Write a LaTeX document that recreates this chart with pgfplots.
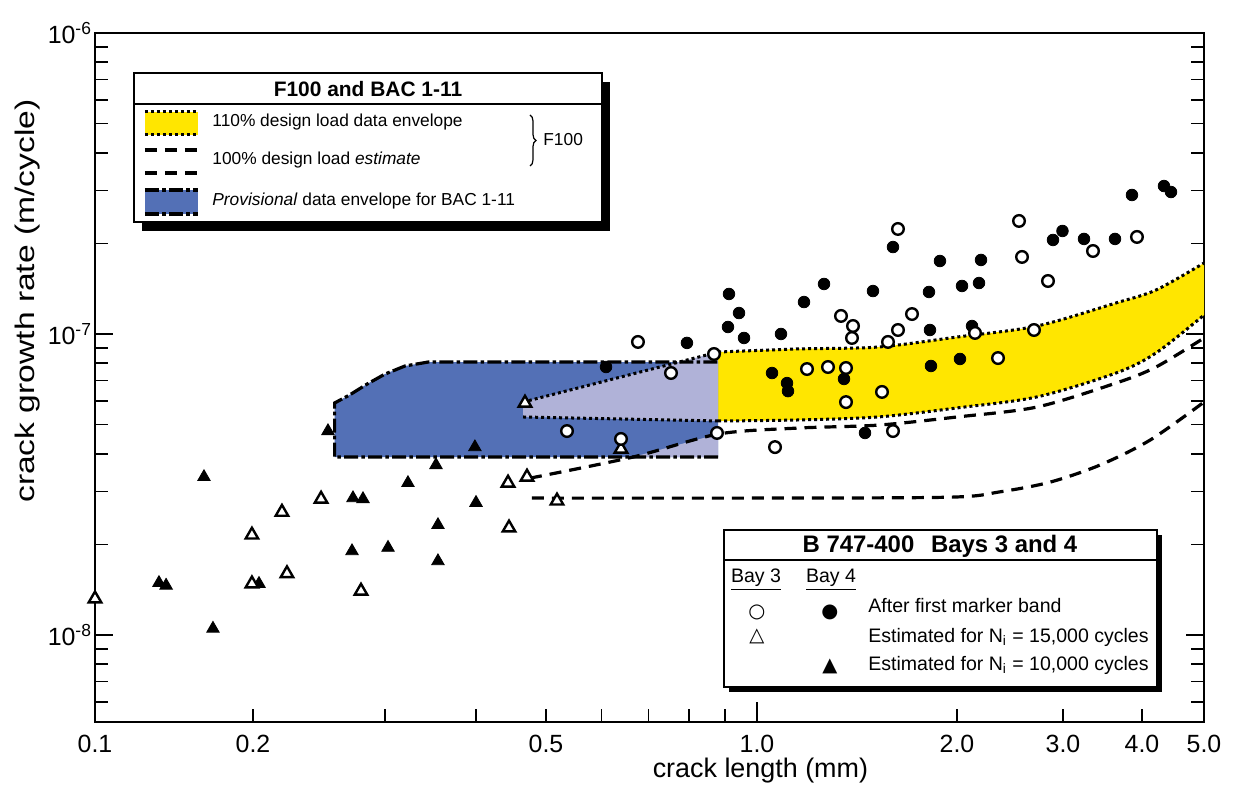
\documentclass[border=0pt]{standalone}
\usepackage{fontspec}
\setmainfont{Liberation Sans}
\newfontfamily\symfont{DejaVu Sans}
\usepackage{pgfplots}
\pgfplotsset{compat=1.18}
\usepgfplotslibrary{fillbetween}
\usetikzlibrary{decorations.pathreplacing}

\definecolor{bacblue}{RGB}{83,112,182}
\definecolor{lav}{RGB}{176,178,216}
\definecolor{envyellow}{RGB}{255,230,0}

\tikzset{
  dotline/.style={black, line width=1.5bp, dash pattern=on 1.5bp off 1.5bp},
  dashline/.style={black, line width=1.6bp, dash pattern=on 6bp off 4bp},
  dashdotline/.style={black, line width=1.6bp, dash pattern=on 7bp off 1.6bp on 1.8bp off 1.6bp},
}

% the crack length axis of the original is log-like but unevenly drawn:
% cp() places a crack length piecewise-logarithmically between the labelled ticks
\pgfplotsset{
  table/crack/.style={x expr={cp(\thisrow{x})}, y=y},
}

\begin{document}
\begin{tikzpicture}[declare function={
  cp(\x)=2.27946*(min(max(ln(\x),-2.302585),-1.609438)+2.302585)
        +3.25553*(min(max(ln(\x),-1.609438),-1.203973)+1.609438)
        +3.16321*(min(max(ln(\x),-1.203973),-0.916291)+1.203973)
        +3.13699*(min(max(ln(\x),-0.916291),-0.693147)+0.916291)
        +3.04409*(min(max(ln(\x),-0.693147),0)+0.693147)
        +2.88539*(min(max(ln(\x),0),0.693147))
        +2.61429*(min(max(ln(\x),0.693147),1.098612)-0.693147)
        +2.74609*(min(max(ln(\x),1.098612),1.386294)-1.098612)
        +2.77847*(min(max(ln(\x),1.386294),1.609438)-1.386294);}]
\begin{axis}[
  at={(47.5bp,32.5bp)}, anchor=south west,
  scale only axis, width=554.5bp, height=344.5bp,
  xmin=0, xmax=11.09,
  ymode=log, ymin=5.14e-9, ymax=1e-6,
  clip=false,
  axis line style={line width=0.9bp},
  tick style={line width=0.8bp, black},
  major tick length=6.5bp, minor tick length=6.5bp,
  % tick positions of 0.1, 0.2, 0.5, 1, 2, 3, 4, 5 mm on the drawn axis
  xtick={0,1.58,4.51,6.62,8.62,9.68,10.47,11.09},
  xticklabels={0.1,0.2,0.5,1.0,2.0,3.0,4.0,5.0},
  % 0.3, 0.4, 0.6, 0.7, 0.8, 0.9 mm
  minor xtick={2.90,3.81,5.065,5.534,5.941,6.299},
  extra x ticks={6.62}, extra x tick labels={},
  extra x tick style={major tick length=10bp},
  xtick pos=left,
  ytick={1e-8,1e-7,1e-6},
  yticklabels={10\textsuperscript{-8},10\textsuperscript{-7},10\textsuperscript{-6}},
  minor ytick={6e-9,7e-9,8e-9,9e-9,2e-8,3e-8,4e-8,5e-8,6e-8,7e-8,8e-8,9e-8,2e-7,3e-7,4e-7,5e-7,6e-7,7e-7,8e-7,9e-7},
  extra y ticks={1e-8,1e-7,1e-6}, extra y tick labels={},
  extra y tick style={major tick length=9bp},
  ytick pos=both,
  tick label style={font=\fontsize{12.5}{15}\selectfont},
  xticklabel style={yshift=-3bp},
  yticklabel style={xshift=2bp},
  xlabel={crack length (mm)},
  ylabel={crack growth rate (m/cycle)},
  label style={font=\fontsize{13.5}{16}\selectfont},
  xlabel style={at={(axis description cs:0.6,0)}, anchor=center, yshift=-24.5bp},
  ylabel style={at={(axis description cs:0,0.611)}, anchor=center, xscale=1.25, yshift=33.5bp},
]

% BAC 1-11 provisional envelope
\addplot[fill=bacblue, draw=none] table[crack] {
x y
0.257 3.90e-8
0.257 5.90e-8
0.269 6.27e-8
0.284 6.82e-8
0.300 7.36e-8
0.3196 7.83e-8
0.344 8.07e-8
0.880 8.07e-8
0.880 3.90e-8
} -- cycle;

% F100 envelopes where they overlap the BAC envelope
\addplot[fill=lav, draw=none] table[crack] {
x y
0.4647 5.94e-8
0.880 8.71e-8
0.880 5.14e-8
0.4647 5.30e-8
} -- cycle;
\addplot[fill=lav, draw=none] table[crack] {
x y
0.665 3.90e-8
0.880 4.65e-8
0.880 3.90e-8
} -- cycle;

% 110% design load envelope
\addplot[name path=yup, dotline, smooth] table[crack] {
x y
0.880 8.71e-8
1.153 8.92e-8
1.521 9.05e-8
2.0 9.77e-8
2.716 1.063e-7
3.639 1.268e-7
4.207 1.40e-7
5.0 1.721e-7
};
\addplot[name path=ylo, dotline, smooth] table[crack] {
x y
0.880 5.14e-8
1.153 5.18e-8
1.521 5.30e-8
2.0 5.68e-8
2.716 6.18e-8
3.639 7.42e-8
4.207 8.65e-8
5.0 1.156e-7
};
\addplot[envyellow] fill between[of=yup and ylo];
\addplot[dotline] table[crack] {
x y
0.4647 5.94e-8
0.880 8.71e-8
};
\addplot[dotline] table[crack] {
x y
0.4647 5.30e-8
0.880 5.14e-8
};

% 100% design load estimate
\addplot[dashline, smooth] table[crack] {
x y
0.4751 3.32e-8
0.665 3.90e-8
0.880 4.65e-8
1.153 4.87e-8
1.521 4.98e-8
2.0 5.30e-8
2.716 5.72e-8
3.639 6.87e-8
4.207 7.77e-8
5.0 9.70e-8
};
\addplot[dashline, smooth] table[crack] {
x y
0.478 2.85e-8
1.0 2.85e-8
1.952 2.87e-8
2.358 2.99e-8
2.855 3.22e-8
3.433 3.67e-8
4.117 4.44e-8
5.0 5.94e-8
};

% outline of the BAC envelope
\addplot[dashdotline] table[crack] {
x y
0.880 3.90e-8
0.257 3.90e-8
0.257 5.90e-8
0.269 6.27e-8
0.284 6.82e-8
0.300 7.36e-8
0.3196 7.83e-8
0.344 8.07e-8
0.880 8.07e-8
};

% Bay 4, estimated for Ni = 10,000 cycles
\addplot[only marks, mark=triangle*, mark size=3.6bp, mark options={fill=black, draw=black}] table[crack] {
x y
0.2518 4.76e-8
0.3987 4.21e-8
0.3525 3.67e-8
0.1613 3.35e-8
0.3226 3.20e-8
0.2719 2.85e-8
0.2804 2.83e-8
0.4000 2.75e-8
0.3547 2.32e-8
0.2711 1.90e-8
0.3029 1.95e-8
0.3547 1.76e-8
0.1324 1.49e-8
0.1366 1.46e-8
0.2037 1.48e-8
0.1678 1.05e-8
};
% Bay 3, estimated for Ni = 15,000 cycles
\addplot[only marks, mark=triangle*, mark size=3.6bp, mark options={fill=white, draw=black, line width=1.2bp}] table[crack] {
x y
0.1000 1.32e-8
0.1991 2.15e-8
0.2186 2.56e-8
0.2465 2.83e-8
0.2220 1.60e-8
0.1991 1.48e-8
0.2787 1.40e-8
0.4430 3.20e-8
0.4444 2.27e-8
0.4706 3.35e-8
0.5184 2.79e-8
0.4676 5.90e-8
0.6397 4.15e-8
};
% Bay 4, after first marker band
\addplot[only marks, mark=*, mark size=2.9bp, mark options={fill=black, draw=black}] table[crack] {
x y
0.6090 7.77e-8
0.7946 9.34e-8
0.9121 1.358e-7
0.9426 1.174e-7
0.9091 1.055e-7
0.9582 9.70e-8
1.0867 1.000e-7
1.1769 1.277e-7
1.2614 1.466e-7
1.0534 7.42e-8
1.1096 6.87e-8
1.1134 6.46e-8
1.3519 7.09e-8
1.4540 4.69e-8
1.4948 1.389e-7
1.6021 1.945e-7
1.8150 1.379e-7
1.8213 1.031e-7
1.8277 7.83e-8
1.8856 1.748e-7
2.0386 1.444e-7
2.0230 8.26e-8
2.1182 1.063e-7
2.1756 1.477e-7
2.1924 1.762e-7
2.8874 2.053e-7
2.9942 2.199e-7
3.2385 2.069e-7
3.6255 2.069e-7
3.8570 2.896e-7
4.3295 3.102e-7
4.4400 2.963e-7
};
% Bay 3, after first marker band
\addplot[only marks, mark=*, mark size=2.9bp, mark options={fill=white, draw=black, line width=1.2bp}] table[crack] {
x y
0.5357 4.76e-8
0.6397 4.48e-8
0.6764 9.41e-8
0.7539 7.42e-8
0.8683 8.58e-8
0.8769 4.69e-8
1.0644 4.21e-8
1.1892 7.65e-8
1.2790 7.77e-8
1.3613 7.71e-8
1.3613 5.94e-8
1.3379 1.148e-7
1.3947 1.063e-7
1.3899 9.70e-8
1.5422 6.42e-8
1.5746 9.41e-8
1.6021 4.76e-8
1.6301 1.031e-7
1.6301 2.233e-7
1.7113 1.165e-7
2.1426 1.008e-7
2.3397 8.32e-8
2.5354 2.374e-7
2.5646 1.803e-7
2.6852 1.031e-7
2.8328 1.500e-7
3.3463 1.887e-7
3.9279 2.101e-7
};
\end{axis}

% legend boxes, in pixel units of the reference (y downwards)
\begin{scope}[x=0.5bp, y=-0.5bp, yshift=393.5bp]
  % F100 and BAC 1-11
  \fill[black] (142,82) rectangle (610,231);
  \filldraw[fill=white, draw=black, line width=0.8bp] (134,73) rectangle (602,222);
  \draw[line width=0.8bp] (134,104) -- (602,104);
  \node[font=\bfseries\fontsize{10.5}{12}\selectfont] at (368,89) {F100 and BAC 1-11};
  \fill[envyellow] (145,112) rectangle (198,135);
  \draw[dotline] (145,112) -- (198,112);
  \draw[dotline] (145,135) -- (198,135);
  \draw[dashline] (145,150) -- (198,150);
  \draw[dashline] (145,173) -- (198,173);
  \fill[bacblue] (145,190) rectangle (198,214);
  \draw[dashdotline] (145,190) -- (198,190);
  \draw[dashdotline] (145,214) -- (198,214);
  \begin{scope}[every node/.style={anchor=west, inner sep=0pt, font=\fontsize{8.7}{10}\selectfont}]
    \node at (212,122) {110\% design load data envelope};
    \node at (212,160) {100\% design load \textit{estimate}};
    \node at (212,201) {\textit{Provisional} data envelope for BAC 1-11};
    \node at (543,140) {F100};
  \end{scope}
  \draw[decorate, decoration={brace, amplitude=3bp}, line width=0.6bp] (530,115) -- (530,166);

  % B 747-400
  \fill[black] (729,535) rectangle (1162,692);
  \filldraw[fill=white, draw=black, line width=0.8bp] (724,530) rectangle (1157,687);
  \draw[line width=0.8bp] (724,560) -- (1157,560);
  \node[font=\bfseries\fontsize{12}{14}\selectfont] at (940,546) {B 747-400\hspace{0.7em}Bays 3 and 4};
  \begin{scope}[every node/.style={font=\fontsize{9.8}{11}\selectfont}]
    \node at (756,580) {\underline{Bay 3}};
    \node at (831,580) {\underline{Bay 4}};
    \node at (757,612) {\symfont\bfseries ○};
    \node at (830,612) {\symfont ●};
    \node at (757,636) {\symfont\bfseries △};
    \node at (830,666) {\symfont ▲};
    \node[anchor=west, inner sep=0pt] at (868,606) {After first marker band};
    \node[anchor=west, inner sep=0pt] at (868,637) {Estimated for N\textsubscript{i} = 15,000 cycles};
    \node[anchor=west, inner sep=0pt] at (868,665) {Estimated for N\textsubscript{i} = 10,000 cycles};
  \end{scope}
\end{scope}
\pgfresetboundingbox
\useasboundingbox (0,0) rectangle (617.5bp,393.5bp);
\end{tikzpicture}
\end{document}
